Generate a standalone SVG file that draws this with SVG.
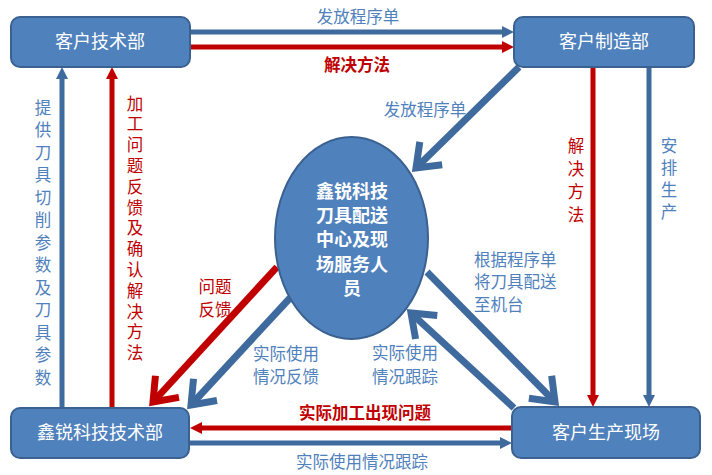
<svg xmlns="http://www.w3.org/2000/svg" width="712" height="475" viewBox="0 0 712 475">
<style>
.box{fill:#4F81BD;stroke:#3A6190;stroke-width:2}
.bt{font-family:"Noto Sans CJK SC","Noto Sans",sans-serif;font-size:18px;fill:#fff;text-anchor:middle}
.et{font-family:"Noto Sans CJK SC","Noto Sans",sans-serif;font-size:18px;font-weight:bold;fill:#fff;text-anchor:middle}
.lb{font-family:"Noto Sans CJK SC","Noto Sans",sans-serif;font-size:16.5px;fill:#4F81BD}
.lr{font-family:"Noto Sans CJK SC","Noto Sans",sans-serif;font-size:16.5px;fill:#C00000}
.bold{font-weight:bold}
.c{text-anchor:middle}
.v{writing-mode:vertical-rl}
.bl{stroke:#3F6A9E;stroke-width:5;fill:none}
.rl{stroke:#C00000;stroke-width:5;fill:none}
.bd{stroke:#3F6A9E;stroke-width:7;fill:none}
.rd{stroke:#C00000;stroke-width:7;fill:none}
</style>
<defs>
<marker id="tb" markerUnits="userSpaceOnUse" viewBox="-6 -8 16 16" markerWidth="16" markerHeight="16" refX="0" refY="0" orient="auto"><path d="M-4,-6 L8,0 L-4,6 z" fill="#3F6A9E"/></marker>
<marker id="tr" markerUnits="userSpaceOnUse" viewBox="-6 -8 16 16" markerWidth="16" markerHeight="16" refX="0" refY="0" orient="auto"><path d="M-4,-6 L8,0 L-4,6 z" fill="#C00000"/></marker>
<marker id="cb" markerUnits="userSpaceOnUse" viewBox="-30 -24 36 48" markerWidth="36" markerHeight="48" refX="0" refY="0" orient="auto"><path d="M-21,-16 L0,0 L-21,16" fill="none" stroke="#3F6A9E" stroke-width="7" stroke-linejoin="miter"/></marker>
<marker id="cr" markerUnits="userSpaceOnUse" viewBox="-30 -24 36 48" markerWidth="36" markerHeight="48" refX="0" refY="0" orient="auto"><path d="M-21,-16 L0,0 L-21,16" fill="none" stroke="#C00000" stroke-width="7" stroke-linejoin="miter"/></marker>
</defs>
<rect width="712" height="475" fill="#fff"/>

<g id="connectors">
<path class="bl" d="M190,32 L506,32" marker-end="url(#tb)"/>
<path class="rl" d="M190,47 L506,47" marker-end="url(#tr)"/>
<path class="rl" d="M593,67 L593,399" marker-end="url(#tr)"/>
<path class="bl" d="M649,67 L649,399" marker-end="url(#tb)"/>
<path class="bl" d="M62,408 L62,75" marker-end="url(#tb)"/>
<path class="rl" d="M112,408 L112,75" marker-end="url(#tr)"/>
<path class="rl" d="M512,428 L198,428" marker-end="url(#tr)"/>
<path class="bl" d="M190,443 L504,443" marker-end="url(#tb)"/>
<path class="bd" d="M519,67 L416,168" marker-end="url(#cb)"/>
<path class="rd" d="M277,267 L153,402" marker-end="url(#cr)"/>
<path class="bd" d="M290,298 L191,405" marker-end="url(#cb)"/>
<path class="bd" d="M427,272 L555,402" marker-end="url(#cb)"/>
<path class="bd" d="M514,408 L411,313" marker-end="url(#cb)"/>

<text class="lb c" x="358" y="23">发放程序单</text>
<text class="lr c bold" x="357" y="71">解决方法</text>
<text class="lb c" x="425" y="116">发放程序单</text>
<text class="lr v" x="576" y="137" style="letter-spacing:6.5px">解决方法</text>
<text class="lb v" x="669" y="137" style="letter-spacing:5.5px">安排生产</text>
<text class="lb v" x="43" y="99" style="letter-spacing:6px">提供刀具切削参数及刀具参数</text>
<text class="lr v" x="135" y="95" style="letter-spacing:4.3px">加工问题反馈及确认解决方法</text>
<text class="lr c" x="215" y="293">问题</text>
<text class="lr c" x="215" y="316">反馈</text>
<text class="lb c" x="286" y="360">实际使用</text>
<text class="lb c" x="286" y="383">情况反馈</text>
<text class="lb" x="474" y="266">根据程序单</text>
<text class="lb" x="474" y="288">将刀具配送</text>
<text class="lb" x="474" y="311">至机台</text>
<text class="lb" x="372" y="359">实际使用</text>
<text class="lb" x="372" y="383">情况跟踪</text>
<text class="lr c bold" x="365" y="419">实际加工出现问题</text>
<text class="lb c" x="362" y="468">实际使用情况跟踪</text>
</g>

<g id="node-kehu-jishu">
<rect class="box" x="11" y="17" width="179" height="50" rx="9"/>
<text class="bt" x="100" y="48">客户技术部</text>
</g>
<g id="node-kehu-zhizao">
<rect class="box" x="514" y="17" width="180" height="50" rx="9"/>
<text class="bt" x="604" y="48">客户制造部</text>
</g>
<g id="node-xinrui-jishu">
<rect class="box" x="11" y="408" width="178" height="50" rx="9"/>
<text class="bt" x="100" y="439">鑫锐科技技术部</text>
</g>
<g id="node-kehu-xianchang">
<rect class="box" x="512" y="407" width="188" height="51" rx="9"/>
<text class="bt" x="606" y="439">客户生产现场</text>
</g>
<g id="node-center">
<ellipse class="box" cx="351.5" cy="238" rx="76.5" ry="101"/>
<text class="et" x="352" y="198">鑫锐科技</text>
<text class="et" x="352" y="222">刀具配送</text>
<text class="et" x="352" y="246">中心及现</text>
<text class="et" x="352" y="271">场服务人</text>
<text class="et" x="352" y="295">员</text>
</g>
</svg>
